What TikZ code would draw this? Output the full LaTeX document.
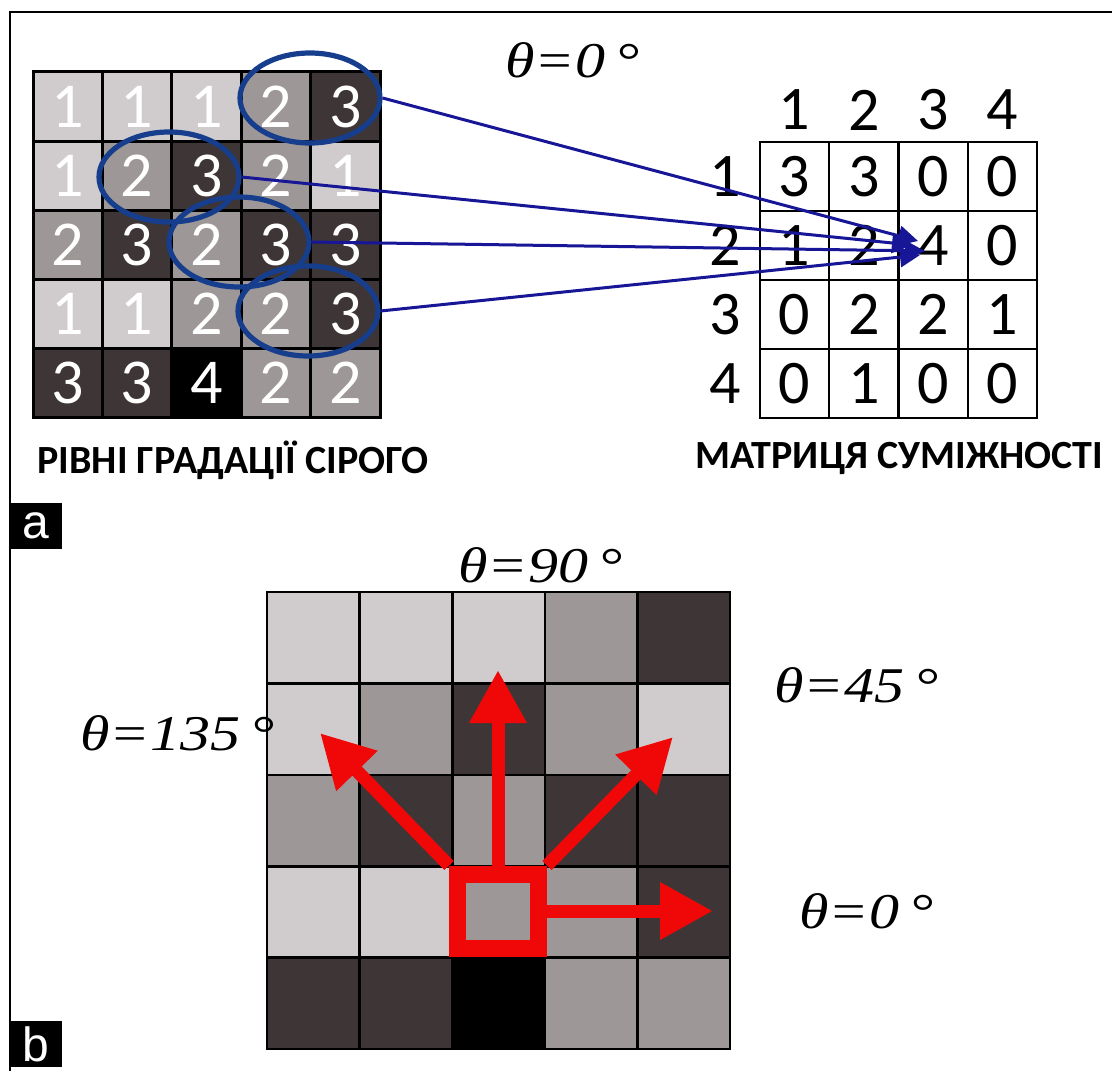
\documentclass[tikz,border=0pt]{standalone}
\usepackage{fontspec}
\setmainfont{Carlito}
\newfontfamily\thetafont[FakeStretch=1.2]{Liberation Serif}
\newfontfamily\tagfont{Liberation Sans}
\definecolor{lv1}{RGB}{208,204,205}
\definecolor{lv2}{RGB}{158,151,151}
\definecolor{lv3}{RGB}{62,53,54}
\definecolor{lv4}{RGB}{0,0,0}
\definecolor{ellblue}{RGB}{22,62,140}
\definecolor{arrblue}{RGB}{22,22,150}
\definecolor{dirred}{RGB}{240,8,8}
\usetikzlibrary{arrows.meta,shapes.geometric}

\begin{document}
\begin{tikzpicture}[x=0.5pt,y=-0.5pt,
  gcell/.style={draw=black,line width=1.5pt,minimum width=34.7pt,minimum height=34.5pt,
        inner sep=0pt,text=white,font=\fontsize{32}{32}\selectfont},
  bcell/.style={draw=black,line width=1.3pt,minimum width=46.3pt,minimum height=45.7pt,inner sep=0pt},
  mcell/.style={draw=black,line width=1pt,minimum width=34.6pt,minimum height=34.5pt,
        inner sep=0pt,font=\fontsize{31}{31}\selectfont},
  hdr/.style={inner sep=0pt,font=\fontsize{31}{31}\selectfont},
  oval/.style={ellipse,draw=ellblue,line width=2.6pt,minimum width=70pt,minimum height=45pt,inner sep=0pt},
  pair/.style={draw=arrblue,line width=1.5pt,-{Triangle[length=10pt,width=10pt]}},
  ring/.style={draw=dirred,line width=8.5pt,minimum width=40.5pt,minimum height=37pt,inner sep=0pt},
  dirarrow/.style={draw=dirred,line width=6.5pt,-{Triangle[length=26.5pt,width=27pt]}},
  theta/.style={inner sep=0pt,anchor=base west,font=\thetafont\itshape\fontsize{25}{25}\selectfont},
  title/.style={inner sep=0pt,anchor=base west,font=\bfseries\fontsize{20}{20}\selectfont},
  tag/.style={fill=black,text=white,font=\tagfont\fontsize{24}{24}\selectfont,
        minimum width=26.5pt,minimum height=23pt,inner sep=0pt}]
  \useasboundingbox (0,0) rectangle (1112,1070);
  \draw[line width=1pt] (10,1075) -- (10,12) -- (1115,12);

  % gray levels
  \foreach \row [count=\r] in {{1,1,1,2,3},{1,2,3,2,1},{2,3,2,3,3},{1,1,2,2,3},{3,3,4,2,2}}
    \foreach \v [count=\c] in \row
      \node[gcell,fill=lv\v] (g-\r-\c) at ({33+69.4*(\c-0.5)},{72+69*(\r-0.5)}) {\v};

  % co-occurrence matrix
  \foreach \row [count=\r] in {{3,3,0,0},{1,2,4,0},{0,2,2,1},{0,1,0,0}}
    \foreach \v [count=\c] in \row
      \node[mcell] (m-\r-\c) at ({760+69.25*(\c-0.5)},{142+69*(\r-0.5)}) {\v};
  \foreach \k in {1,...,4} {
    \node[hdr] (col-\k) at ({760+69.25*(\k-0.5)},110) {\k};
    \node[hdr] (row-\k) at (725,{142+69*(\k-0.5)}) {\k};
  }

  \node[oval] (e1) at (310,98) {};
  \node[oval] (e2) at (169,177) {};
  \node[oval] (e3) at (239,242) {};
  \node[oval] (e4) at (308,311) {};
  \coordinate (t1) at (918,241);
  \coordinate (t2) at (912,245);
  \coordinate (t3) at (925,251);
  \coordinate (t4) at (920,255);
  \draw[pair] (e1.east) -- (t1);
  \draw[pair] (e2.east) -- (t2);
  \draw[pair] (e3.east) -- (t3);
  \draw[pair] (e4.east) -- (t4);

  \node[theta] (th-top) at (505,78) {θ=0\hspace{5pt}°};
  \node[title] (lbl-grey) at (37,473) {РІВНІ ГРАДАЦІЇ СІРОГО};
  \node[title] (lbl-mat) at (695,468) {МАТРИЦЯ СУМІЖНОСТІ};
  \node[tag] (tag-a) at (35.5,526) {a};

  % directions
  \foreach \row [count=\r] in {{1,1,1,2,3},{1,2,3,2,1},{2,3,2,3,3},{1,1,2,2,3},{3,3,4,2,2}}
    \foreach \v [count=\c] in \row
      \node[bcell,fill=lv\v] (b-\r-\c) at ({267+92.6*(\c-0.5)},{592+91.4*(\r-0.5)}) {};

  \node[ring] (sq) at (498,911) {};
  \coordinate (d0) at (713,911);
  \coordinate (d45) at (673,737);
  \coordinate (d90) at (498,670);
  \coordinate (d135) at (320,733);
  \draw[dirarrow] (sq.east) -- (d0);
  \draw[dirarrow] (sq.north east) -- (d45);
  \draw[dirarrow] (sq.north) -- (d90);
  \draw[dirarrow] (sq.north west) -- (d135);

  \node[theta] (th-90) at (458,582) {θ=90\hspace{5pt}°};
  \node[theta] (th-45) at (774,702) {θ=45\hspace{5pt}°};
  \node[theta] (th-135) at (80,750) {θ=135\hspace{5pt}°};
  \node[theta] (th-0) at (799,928) {θ=0\hspace{5pt}°};
  \node[tag] (tag-b) at (35.5,1044) {b};
\end{tikzpicture}
\end{document}
